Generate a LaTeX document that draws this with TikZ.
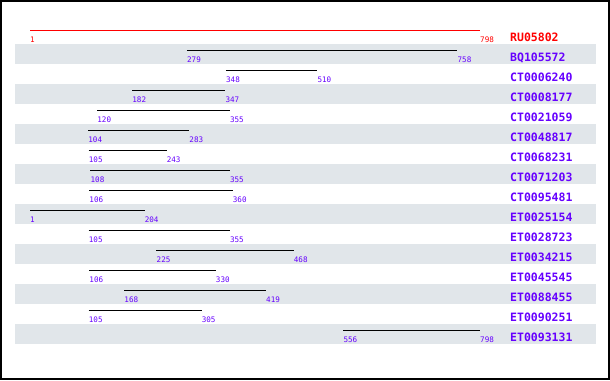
\documentclass[tikz,border=0pt]{standalone}
\usepackage{fontspec}
\setmonofont{DejaVu Sans Mono}
\definecolor{lblpurple}{RGB}{102,0,255}
\definecolor{bandgray}{RGB}{225,230,234}
\definecolor{refred}{RGB}{255,0,0}
\begin{document}
\begin{tikzpicture}[x=1pt,y=-1pt,
  numlbl/.style={anchor=base west,inner sep=0pt,font=\ttfamily\fontsize{7.6}{8}\selectfont,text=lblpurple},
  namelbl/.style={anchor=base west,inner sep=0pt,font=\ttfamily\bfseries\fontsize{11.5}{12}\selectfont,text=lblpurple},
  bar/.style={line width=1pt,black},
  band/.style={fill=bandgray,draw=none}]
\useasboundingbox (0,0) rectangle (610,380);
\fill[white] (0,0) rectangle (610,380);
\foreach \i in {1,3,...,15} {
  \fill[bandgray] (15,{24+20*\i}) rectangle (596,{44+20*\i});
}
\foreach \i/\nm/\a/\b in {0/RU05802/1/798,1/BQ105572/279/758,2/CT0006240/348/510,3/CT0008177/182/347,4/CT0021059/120/355,5/CT0048817/104/283,6/CT0068231/105/243,7/CT0071203/108/355,8/CT0095481/106/360,9/ET0025154/1/204,10/ET0028723/105/355,11/ET0034215/225/468,12/ET0045545/106/330,13/ET0088455/168/419,14/ET0090251/105/305,15/ET0093131/556/798} {
  \pgfmathsetmacro{\xa}{30+(\a-1)*0.5646173}
  \pgfmathsetmacro{\xb}{30+(\b-1)*0.5646173}
  \pgfmathsetmacro{\yy}{30+20*\i}
  \coordinate (a\i) at (\xa,\yy);
  \coordinate (b\i) at (\xb,\yy);
  \ifnum\i=0
    \draw[bar,refred] (a\i) -- (b\i);
    \node[numlbl,text=refred] (s\i) at (\xa,\yy+12) {\a};
    \node[numlbl,text=refred] (e\i) at (\xb,\yy+12) {\b};
    \node[namelbl,text=refred] (n\i) at (510,\yy+11) {\nm};
  \else
    \draw[bar] (a\i) -- (b\i);
    \node[numlbl] (s\i) at (\xa,\yy+12) {\a};
    \node[numlbl] (e\i) at (\xb,\yy+12) {\b};
    \node[namelbl] (n\i) at (510,\yy+11) {\nm};
  \fi
}
\draw[line width=2pt,black] (1,1) rectangle (609,379);
\end{tikzpicture}
\end{document}
